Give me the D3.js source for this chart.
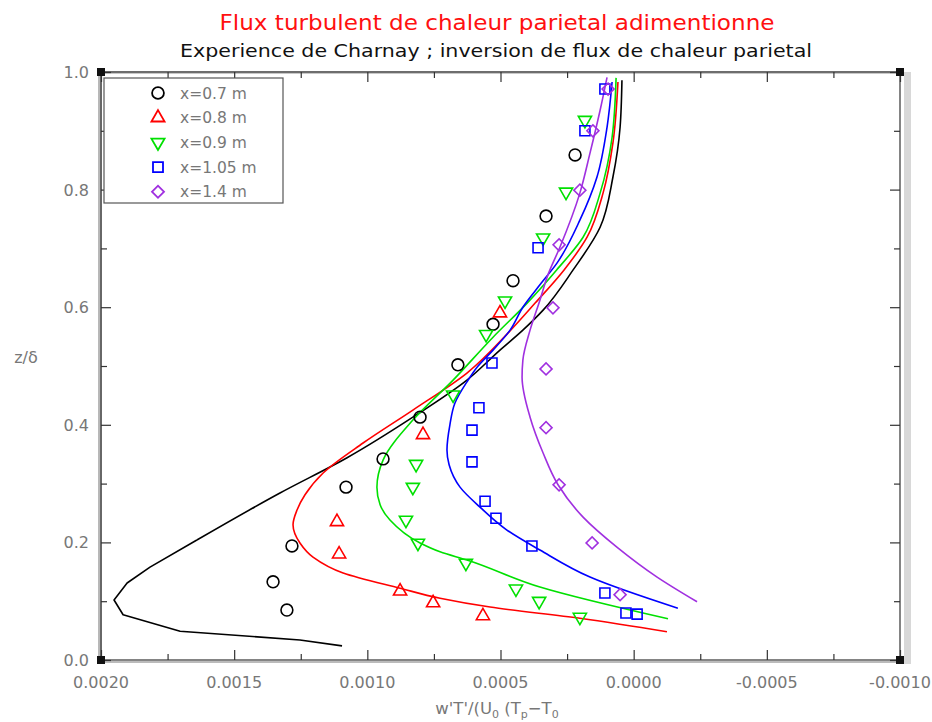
<!DOCTYPE html>
<html><head><meta charset="utf-8">
<script src="https://cdn.jsdelivr.net/npm/d3@7"></script>
<style>
html,body{margin:0;padding:0;background:#fff;}
svg{display:block;font-family:"DejaVu Sans",sans-serif;}
</style></head>
<body>
<svg id="chart" width="932" height="722"></svg>
<script>
// ---------------- data ----------------
const seriesNames = ["x=0.7 m","x=0.8 m","x=0.9 m","x=1.05 m","x=1.4 m"];
const seriesColors = ["#000000","#ff0000","#00e000","#0000ff","#a030e0"];
const seriesSymbols = ["circle","triangle","triangleDown","square","diamond"];

// measurements (x = w'T'/(U0(Tp-T0)), z = z/delta)
const obs07X = [0.000220,0.000329,0.000453,0.000528,0.000660,0.000802,0.000941,0.001080,0.001283,0.001354,0.001302];
const obs07Z = [0.859,0.755,0.645,0.571,0.502,0.413,0.342,0.294,0.194,0.133,0.085];
const obs08X = [0.000502,0.000791,0.001114,0.001106,0.000877,0.000753,0.000566];
const obs08Z = [0.590,0.383,0.235,0.180,0.117,0.097,0.075];
const obs09X = [0.000183,0.000254,0.000340,0.000483,0.000554,0.000678,0.000817,0.000829,0.000855,0.000810,0.000630,0.000442,0.000355,0.000202];
const obs09Z = [0.918,0.796,0.718,0.611,0.554,0.451,0.333,0.294,0.238,0.199,0.165,0.121,0.100,0.073];
const obs105X = [0.000108,0.000183,0.000359,0.000532,0.000581,0.000607,0.000607,0.000558,0.000517,0.000382,0.000108,0.000029,-0.000013];
const obs105Z = [0.971,0.900,0.701,0.505,0.429,0.391,0.337,0.270,0.241,0.194,0.114,0.080,0.078];
const obs14X = [0.000096,0.000153,0.000202,0.000280,0.000303,0.000329,0.000329,0.000280,0.000156,0.000051];
const obs14Z = [0.971,0.900,0.799,0.706,0.599,0.495,0.395,0.298,0.199,0.111];

// computed profiles
const mod07X = [0.001095,0.001253,0.001703,0.001917,0.001951,0.001902,0.001816,0.001640,0.001328,0.001076,0.000829,0.000626,0.000502,0.000416,0.000340,0.000228,0.000126,0.000078,0.000051,0.000044];
const mod07Z = [0.024,0.034,0.049,0.077,0.102,0.131,0.158,0.204,0.284,0.344,0.413,0.476,0.527,0.561,0.595,0.663,0.736,0.821,0.906,0.986];
const mod08X = [-0.000125,0.000202,0.000539,0.000727,0.000877,0.001091,0.001204,0.001253,0.001279,0.001264,0.001234,0.001166,0.001016,0.000829,0.000626,0.000472,0.000370,0.000262,0.000175,0.000115,0.000078,0.000059];
const mod08Z = [0.048,0.071,0.090,0.105,0.122,0.148,0.175,0.199,0.230,0.255,0.281,0.318,0.369,0.425,0.488,0.556,0.607,0.663,0.719,0.794,0.879,0.983];
const mod09X = [-0.000129,0.000352,0.000626,0.000727,0.000802,0.000915,0.000952,0.000964,0.000941,0.000829,0.000678,0.000528,0.000400,0.000290,0.000190,0.000126,0.000081,0.000066];
const mod09Z = [0.070,0.124,0.170,0.184,0.199,0.238,0.264,0.294,0.340,0.408,0.476,0.549,0.607,0.663,0.719,0.794,0.889,0.990];
const mod105X = [-0.000166,0.000164,0.000352,0.000476,0.000577,0.000652,0.000693,0.000701,0.000690,0.000671,0.000626,0.000588,0.000528,0.000464,0.000416,0.000352,0.000288,0.000202,0.000138,0.000100,0.000081];
const mod105Z = [0.088,0.141,0.187,0.221,0.260,0.294,0.332,0.357,0.400,0.437,0.473,0.498,0.527,0.561,0.600,0.638,0.675,0.748,0.821,0.906,0.983];
const mod14X = [-0.000238,-0.000088,0.000063,0.000190,0.000284,0.000340,0.000389,0.000419,0.000416,0.000389,0.000352,0.000322,0.000277,0.000202,0.000164,0.000126,0.000100];
const mod14Z = [0.099,0.141,0.192,0.243,0.298,0.352,0.413,0.481,0.510,0.561,0.612,0.655,0.702,0.794,0.862,0.935,0.991];
// below this z the x=0.7 m profile is drawn as straight segments (as in the original)
const mod07LinearBelowZ = 0.204;

const xTicks = [0.0020,0.0015,0.0010,0.0005,0.0000,-0.0005,-0.0010];
const xTickLabels = ["0.0020","0.0015","0.0010","0.0005","0.0000","-0.0005","-0.0010"];
const xMinorTicks = [0.00175,0.00125,0.00075,0.00025,-0.00025,-0.00075];
const yTicks = [0.0,0.2,0.4,0.6,0.8,1.0];
const yTickLabels = ["0.0","0.2","0.4","0.6","0.8","1.0"];
const yMinorTicks = [0.1,0.3,0.5,0.7,0.9];

const title1 = "Flux turbulent de chaleur parietal adimentionne";
const title2 = "Experience de Charnay ; inversion de flux de chaleur parietal";

// ---------------- build ----------------
const obs = [[obs07X,obs07Z],[obs08X,obs08Z],[obs09X,obs09Z],[obs105X,obs105Z],[obs14X,obs14Z]]
  .map(([xs,zs]) => xs.map((v,i)=>({x:v,z:zs[i]})));
const mods = [[mod07X,mod07Z],[mod08X,mod08Z],[mod09X,mod09Z],[mod105X,mod105Z],[mod14X,mod14Z]]
  .map(([xs,zs]) => xs.map((v,i)=>({x:v,z:zs[i]})));

const L=101, R=900, T=72, B=660;
const x = d3.scaleLinear().domain([0.002,-0.001]).range([L,R]);
const y = d3.scaleLinear().domain([0,1]).range([B,T]);

const svg = d3.select("#chart");

// titles
svg.append("text").attr("x",497).attr("y",30).attr("text-anchor","middle")
  .attr("fill","#ff1010").attr("font-size",21)
  .attr("textLength",555).attr("lengthAdjust","spacingAndGlyphs").text(title1);
svg.append("text").attr("x",496).attr("y",57).attr("text-anchor","middle")
  .attr("fill","#111").attr("font-size",18)
  .attr("textLength",632).attr("lengthAdjust","spacingAndGlyphs").text(title2);

// frame shadows
svg.append("rect").attr("x",L-3).attr("y",T).attr("width",4).attr("height",B-T).attr("fill","#b8b8b8");
svg.append("rect").attr("x",L).attr("y",T-1).attr("width",R-L).attr("height",3).attr("fill","#c8c8c8");
svg.append("rect").attr("x",R+4).attr("y",T).attr("width",7).attr("height",B-T+4).attr("fill","#d8d8d8");
svg.append("rect").attr("x",L).attr("y",B+1).attr("width",R-L).attr("height",2).attr("fill","#bbbbbb");
svg.append("rect").attr("x",L).attr("y",T).attr("width",R-L).attr("height",B-T)
  .attr("fill","none").attr("stroke","#333").attr("stroke-width",1.2);

// axes (ticks inward)
function styleAxis(g){ g.select(".domain").remove(); g.selectAll("line").attr("stroke","#333").attr("stroke-width",1.2); }
function addAxis(axisFn, scale, ticks, size, tx, ty){
  svg.append("g").attr("transform",`translate(${tx},${ty})`)
    .call(axisFn(scale).tickValues(ticks).tickSize(-size).tickFormat(""))
    .call(styleAxis);
}
addAxis(d3.axisBottom, x, xTicks, 10, 0, B);
addAxis(d3.axisBottom, x, xMinorTicks, 6, 0, B);
addAxis(d3.axisTop, x, xTicks, 10, 0, T);
addAxis(d3.axisTop, x, xMinorTicks, 6, 0, T);
addAxis(d3.axisLeft, y, yTicks, 10, L, 0);
addAxis(d3.axisLeft, y, yMinorTicks, 6, L, 0);
addAxis(d3.axisRight, y, yTicks, 10, R, 0);
addAxis(d3.axisRight, y, yMinorTicks, 6, R, 0);

// tick labels
svg.append("g").selectAll("text").data(xTicks).join("text")
  .attr("x",d=>x(d)).attr("y",B+28).attr("text-anchor","middle")
  .attr("fill","#777").attr("font-size",16).text((d,i)=>xTickLabels[i]);
svg.append("g").selectAll("text").data(yTicks).join("text")
  .attr("x",L-12).attr("y",d=>y(d)+6).attr("text-anchor","end")
  .attr("fill","#777").attr("font-size",16).text((d,i)=>yTickLabels[i]);

// corner squares
[[L,T],[R,T],[L,B],[R,B]].forEach(([cx,cy])=>{
  svg.append("rect").attr("x",cx-4).attr("y",cy-4).attr("width",8).attr("height",8).attr("fill","#111");
});

// axis titles
const xl = svg.append("text").attr("x",497).attr("y",714).attr("text-anchor","middle")
  .attr("fill","#777").attr("font-size",16.5);
xl.append("tspan").text("w'T'/(U");
xl.append("tspan").attr("font-size",11).attr("dy",4).text("0");
xl.append("tspan").attr("dy",-4).text(" (T");
xl.append("tspan").attr("font-size",11).attr("dy",4).text("p");
xl.append("tspan").attr("dy",-4).text("\u2212T");
xl.append("tspan").attr("font-size",11).attr("dy",4).text("0");
svg.append("text").attr("x",26).attr("y",363).attr("text-anchor","middle")
  .attr("fill","#777").attr("font-size",16).text("z/\u03b4");

// curves
svg.append("clipPath").attr("id","pc").append("rect")
  .attr("x",L).attr("y",T).attr("width",R-L).attr("height",B-T);
const plot = svg.append("g").attr("clip-path","url(#pc)");
const smooth = d3.line().x(d=>x(d.x)).y(d=>y(d.z)).curve(d3.curveMonotoneY);
const straight = d3.line().x(d=>x(d.x)).y(d=>y(d.z)).curve(d3.curveLinear);
mods.forEach((m,i)=>{
  if(i===0){
    const lo = m.filter(d=>d.z<=mod07LinearBelowZ);
    const hi = m.filter(d=>d.z>=mod07LinearBelowZ);
    plot.append("path").datum(lo).attr("d",straight).attr("fill","none")
      .attr("stroke",seriesColors[i]).attr("stroke-width",1.6).attr("stroke-linejoin","round");
    plot.append("path").datum(hi).attr("d",smooth).attr("fill","none")
      .attr("stroke",seriesColors[i]).attr("stroke-width",1.6);
  } else {
    plot.append("path").datum(m).attr("d",smooth).attr("fill","none")
      .attr("stroke",seriesColors[i]).attr("stroke-width",1.6);
  }
});

// symbols
function symPath(kind){
  switch(kind){
    case "circle": return d3.symbol().type(d3.symbolCircle).size(110)();
    case "triangle": return d3.symbol().type(d3.symbolTriangle).size(75)();
    case "triangleDown": return d3.symbol().type(d3.symbolTriangle).size(75)();
    case "square": return d3.symbol().type(d3.symbolSquare).size(100)();
    case "diamond": return d3.symbol().type(d3.symbolSquare).size(72)();
  }
}
function symRot(kind){ return kind==="triangleDown"?180:(kind==="diamond"?45:0); }
obs.forEach((pts,i)=>{
  const k = seriesSymbols[i];
  plot.append("g").selectAll("path").data(pts).join("path")
    .attr("d",symPath(k))
    .attr("transform",d=>`translate(${x(d.x)},${y(d.z)}) rotate(${symRot(k)})`)
    .attr("fill","none").attr("stroke",seriesColors[i]).attr("stroke-width",1.6);
});

// legend
const lg = svg.append("g");
lg.append("rect").attr("x",104).attr("y",78).attr("width",179).attr("height",125)
  .attr("fill","#fff").attr("stroke","#555").attr("stroke-width",1.2);
seriesNames.forEach((n,i)=>{
  const yy = 93 + i*24.7;
  const k = seriesSymbols[i];
  lg.append("path").attr("d",symPath(k))
    .attr("transform",`translate(158,${yy}) rotate(${symRot(k)})`)
    .attr("fill","none").attr("stroke",seriesColors[i]).attr("stroke-width",1.8);
  lg.append("text").attr("x",180).attr("y",yy+5.5).attr("fill","#777")
    .attr("font-size",15.5).text(n);
});
</script>
</body></html>
